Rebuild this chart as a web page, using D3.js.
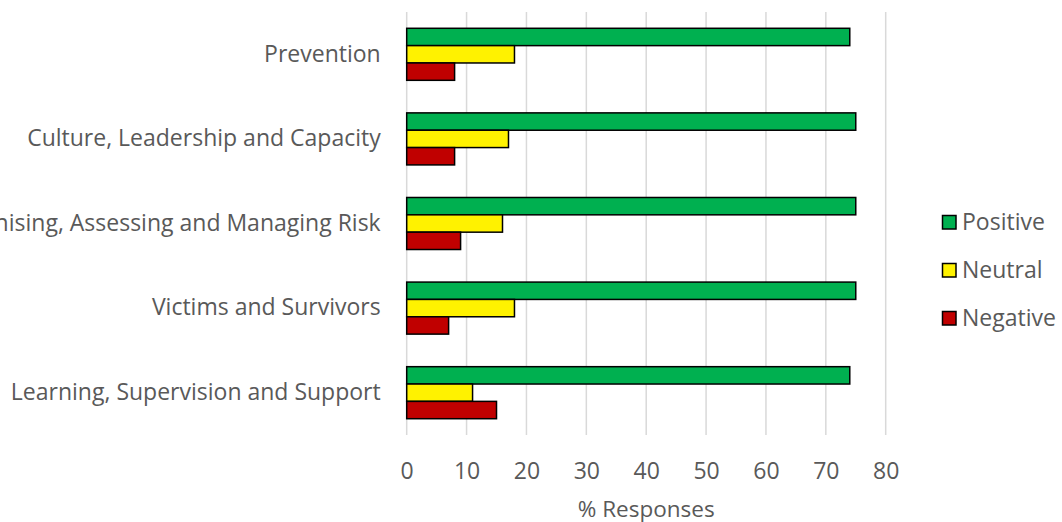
<!DOCTYPE html>
<html><head><meta charset="utf-8">
<script src="https://cdn.jsdelivr.net/npm/d3@7"></script>
<style>body{margin:0;background:#fff;} svg{display:block;}</style>
</head><body>
<svg id="c" width="1062" height="522"></svg>
<script>
const categories = ["Prevention","Culture, Leadership and Capacity","Recognising, Assessing and Managing Risk","Victims and Survivors","Learning, Supervision and Support"];
const seriesNames = ["Positive","Neutral","Negative"];
const positive = [74,75,75,75,74];
const neutral = [18,17,16,18,11];
const negative = [8,8,9,7,15];
const xTicks = [0,10,20,30,40,50,60,70,80];
const colors = ["#00B050","#FFF200","#C00000"];
const seriesValues = [positive, neutral, negative];

(function(){
const FONT = "'Open Sans', sans-serif";
const TXT = "#595959";
const FS = 23;
const svg = d3.select("#c");
const pLeft = 406.7, pRight = 885.7, pTop = 12, pBottom = 435;
const x = d3.scaleLinear().domain([0,80]).range([pLeft,pRight]);
const y = d3.scaleBand().domain(categories).range([pTop,pBottom]).paddingInner(0.385).paddingOuter(0.1925);
const ys = d3.scaleBand().domain(seriesNames).range([0,y.bandwidth()]);

svg.append("g").selectAll("line").data(xTicks).join("line")
  .attr("x1",d=>x(d)).attr("x2",d=>x(d)).attr("y1",pTop).attr("y2",pBottom)
  .attr("stroke","#d9d9d9").attr("stroke-width",1.5);

const g = svg.append("g");
categories.forEach((c,i)=>{
  seriesNames.forEach((s,j)=>{
    g.append("rect")
      .attr("x",x(0)).attr("y",y(c)+ys(s))
      .attr("width",x(seriesValues[j][i])-x(0)).attr("height",ys.bandwidth())
      .attr("fill",colors[j]).attr("stroke","#000").attr("stroke-width",1.5);
  });
});

const xa = svg.append("g").attr("transform",`translate(0,${pBottom})`)
  .call(d3.axisBottom(x).tickValues(xTicks).tickSize(0).tickPadding(35.5));
xa.select(".domain").remove();
xa.selectAll("text").attr("dy","0.35em").attr("font-family",FONT).attr("font-size",FS).attr("fill",TXT);

const ya = svg.append("g").attr("transform",`translate(${pLeft},0)`)
  .call(d3.axisLeft(y).tickSize(0).tickPadding(26));
ya.select(".domain").remove();
ya.selectAll("text").attr("font-family",FONT).attr("font-size",FS).attr("fill",TXT);

svg.append("text").attr("x",(pLeft+pRight)/2).attr("y",509).attr("dy","0.35em").attr("text-anchor","middle")
  .attr("font-family",FONT).attr("font-size",22.5).attr("fill",TXT).text("% Responses");

const lg = svg.append("g");
seriesNames.forEach((s,j)=>{
  const cy = 222 + j*48;
  lg.append("rect").attr("x",942.5).attr("y",cy-6.5).attr("width",13.5).attr("height",13.5)
    .attr("fill",colors[j]).attr("stroke","#000").attr("stroke-width",1.5);
  lg.append("text").attr("x",962).attr("y",cy).attr("dy","0.35em")
    .attr("font-family",FONT).attr("font-size",FS).attr("fill",TXT).text(s);
});
})();
</script>
</body></html>
